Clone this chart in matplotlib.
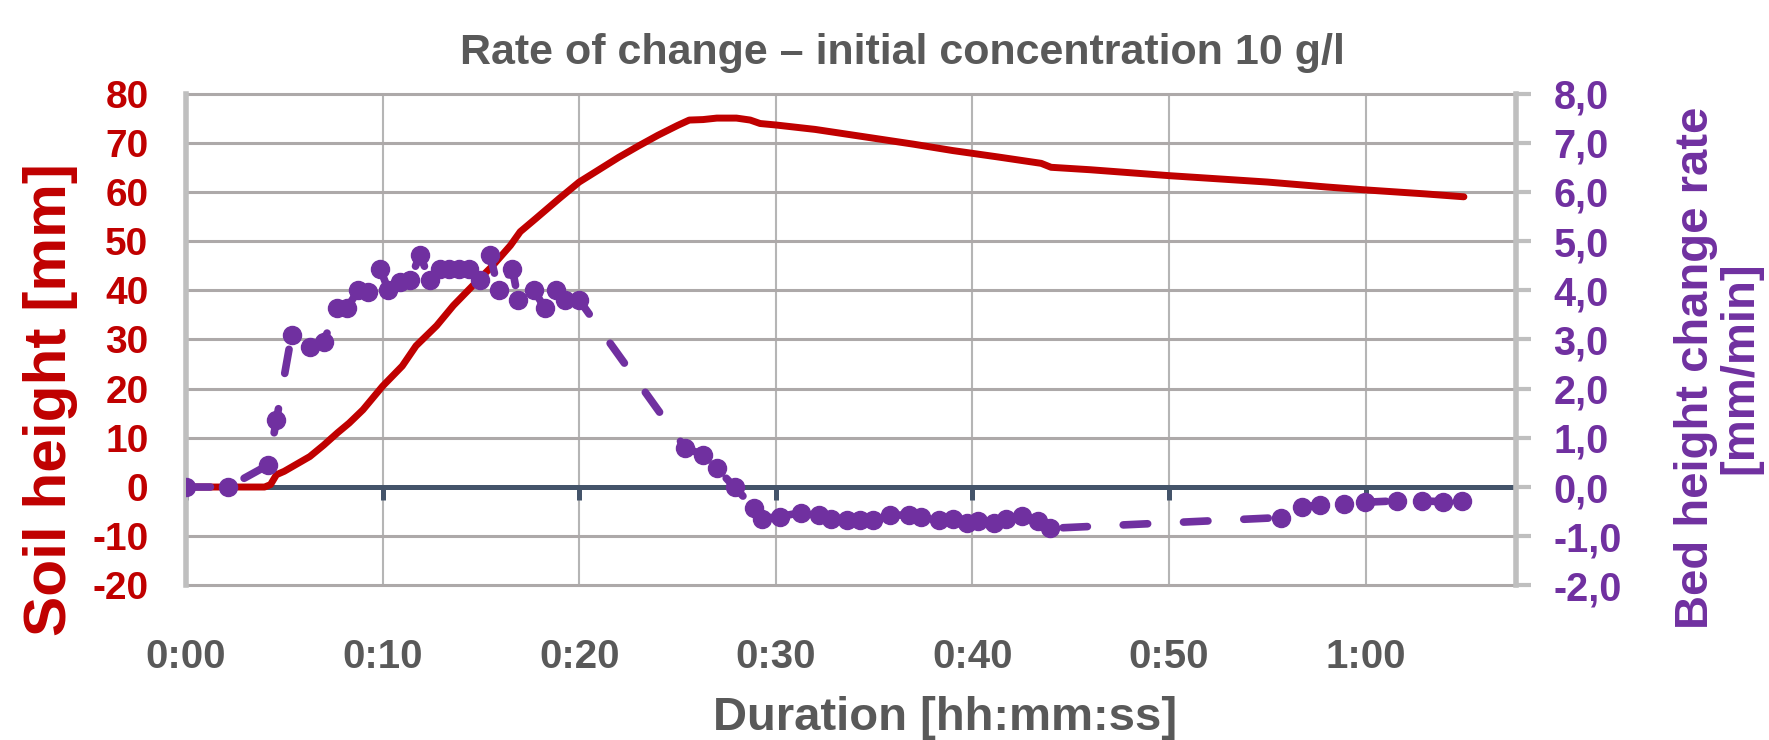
import matplotlib
matplotlib.use('Agg')
import matplotlib.pyplot as plt

# ---------------- data ----------------
# Soil height (left axis), time in minutes
red_t = [0, 2, 3, 4, 4.3, 4.6, 5.0, 6.3, 7.0, 7.7, 8.3, 9.0, 10.0, 11.0, 11.7, 12.75,
         13.6, 14.6, 15.6, 16.5, 17.0, 17.8, 19.0, 20.0, 21, 22, 23, 24, 25, 25.6,
         26.3, 27, 28, 28.7, 29.2, 30, 32, 34.5, 37, 39, 41.3, 43.5, 44, 46, 50,
         55, 58, 60, 63, 65]
red_h = [0, 0, 0, 0, 0.5, 2.5, 3.2, 6.2, 8.5, 11, 13, 15.7, 20.5, 24.6, 28.7, 32.8,
         36.9, 41, 45, 49.1, 51.9, 54.6, 58.7, 62, 64.5, 67, 69.3, 71.5, 73.5, 74.6,
         74.7, 75, 75, 74.6, 73.9, 73.6, 72.7, 71.2, 69.7, 68.4, 67.1, 65.8, 65.0, 64.5, 63.3,
         62.0, 61.0, 60.4, 59.6, 59.0]

# Bed height change rate (right axis), time in minutes
rate_t = [0, 2.15, 4.19, 4.6, 5.37, 6.3, 7.0, 7.66, 8.17, 8.77, 9.28, 9.87, 10.3, 10.9,
          11.4, 11.9, 12.4, 12.9, 13.4, 13.9, 14.4, 14.95, 15.46, 15.9, 16.6, 16.9,
          17.7, 18.26, 18.8, 19.3, 20.0, 25.4, 26.3, 27.0, 27.9, 28.9, 29.3, 30.2,
          31.3, 32.2, 32.8, 33.6, 34.3, 34.96, 35.8, 36.8, 37.4, 38.3, 39.0, 39.7,
          40.3, 41.1, 41.7, 42.5, 43.35, 43.95, 55.7, 56.75, 57.7, 58.9, 59.97, 61.6,
          62.85, 63.95, 64.9]
rate_v = [0.0, 0.0, 0.45, 1.36, 3.09, 2.85, 2.95, 3.63, 3.63, 4.0, 3.97, 4.44, 4.0, 4.17,
          4.21, 4.72, 4.21, 4.44, 4.44, 4.44, 4.44, 4.21, 4.72, 4.0, 4.44, 3.8,
          4.0, 3.63, 4.0, 3.8, 3.8, 0.79, 0.66, 0.38, 0.0, -0.43, -0.64, -0.60,
          -0.52, -0.57, -0.64, -0.67, -0.67, -0.68, -0.57, -0.57, -0.60, -0.67, -0.66, -0.74,
          -0.70, -0.74, -0.64, -0.59, -0.70, -0.84, -0.62, -0.40, -0.37, -0.35, -0.31, -0.28,
          -0.28, -0.30, -0.29]

x_ticks = [0, 10, 20, 30, 40, 50, 60]
x_tick_labels = ['0:00', '0:10', '0:20', '0:30', '0:40', '0:50', '1:00']
left_ticks = [-20, -10, 0, 10, 20, 30, 40, 50, 60, 70, 80]
left_tick_labels = ['-20', '-10', '0', '10', '20', '30', '40', '50', '60', '70', '80']
right_ticks = [-2, -1, 0, 1, 2, 3, 4, 5, 6, 7, 8]
right_tick_labels = ['-2,0', '-1,0', '0,0', '1,0', '2,0', '3,0', '4,0', '5,0', '6,0', '7,0', '8,0']

title = 'Rate of change \u2013 initial concentration 10 g/l'
xlabel = 'Duration [hh:mm:ss]'
ylabel_left = 'Soil height [mm]'
ylabel_right = 'Bed height change rate\n[mm/min]'

RED = '#C00000'
PURPLE = '#7030A0'
GREY_TXT = '#595959'

plt.rcParams['font.family'] = ['Liberation Sans', 'DejaVu Sans']
plt.rcParams['font.weight'] = 'bold'

W, H = 1769, 740
fig = plt.figure(figsize=(W / 100, H / 100), dpi=100)
fig.patch.set_facecolor('white')

left_px, right_px, top_px, bot_px = 186, 1516, 93.5, 585.4
ax = fig.add_axes([left_px / W, 1 - bot_px / H, (right_px - left_px) / W, (bot_px - top_px) / H])
ax.set_xlim(0, 67.65)
ax.set_ylim(-20, 80)

ax.set_xticks(x_ticks)
ax.set_xticklabels(x_tick_labels)
ax.set_yticks(left_ticks)
ax.set_yticklabels(left_tick_labels)

ax.set_axisbelow(True)
ax.grid(axis='y', color='#ADA9A9', lw=2.2, zorder=0)
ax.grid(axis='x', color='#B5B5B5', lw=1.5, zorder=0)
for gl in ax.get_ygridlines():
    gl.set_clip_on(False)

for s in ['top', 'bottom', 'right']:
    ax.spines[s].set_visible(False)
ax.spines['left'].set_color('#BFBFBF')
ax.spines['left'].set_linewidth(4)

ax.tick_params(axis='y', length=0, pad=27, labelcolor=RED, labelsize=28)
ax.tick_params(axis='x', length=0, pad=38, labelcolor=GREY_TXT, labelsize=29)
for lab in ax.get_xticklabels() + ax.get_yticklabels():
    lab.set_fontweight('bold')

# zero axis line with tick marks
ax.axhline(0, color='#44546A', lw=3.6, zorder=2)
ax.vlines(x_ticks, -2.6, 0, color='#44546A', lw=3.6, zorder=2)

ax.plot(red_t, red_h, color=RED, lw=5.0, solid_joinstyle='round',
        solid_capstyle='round', zorder=3)

ax2 = ax.twinx()
ax2.set_ylim(-2, 8)
ax2.set_yticks(right_ticks)
ax2.set_yticklabels(right_tick_labels)
for s in ['top', 'bottom', 'left']:
    ax2.spines[s].set_visible(False)
ax2.spines['right'].set_color('#BFBFBF')
ax2.spines['right'].set_linewidth(4)
ax2.tick_params(axis='y', length=11, width=3, color='#BFBFBF', pad=16,
                labelcolor=PURPLE, labelsize=28.5)
for lab in ax2.get_yticklabels():
    lab.set_fontweight('bold')

ax2.plot(rate_t, rate_v, color=PURPLE, lw=5.5, ls=(0, (3.2, 4.7)),
         dash_capstyle='round', solid_capstyle='round', marker='o', ms=13,
         mfc=PURPLE, mec=PURPLE, zorder=4)

fig.text(902 / W, 1 - 64 / H, title, ha='center', va='baseline',
         fontsize=31, color=GREY_TXT, fontweight='bold')
fig.text(945 / W, 1 - 730 / H, xlabel, ha='center', va='baseline',
         fontsize=34, color=GREY_TXT, fontweight='bold')
fig.text(51 / W, 1 - 400 / H, ylabel_left, ha='center', va='center', rotation=90,
         fontsize=43.5, color=RED, fontweight='bold')
fig.text(1718 / W, 1 - 368 / H, ylabel_right, ha='center', va='center', rotation=90,
         multialignment='center', linespacing=1.0,
         fontsize=34, color=PURPLE, fontweight='bold')

fig.savefig('out.png', dpi=100, facecolor='white')
